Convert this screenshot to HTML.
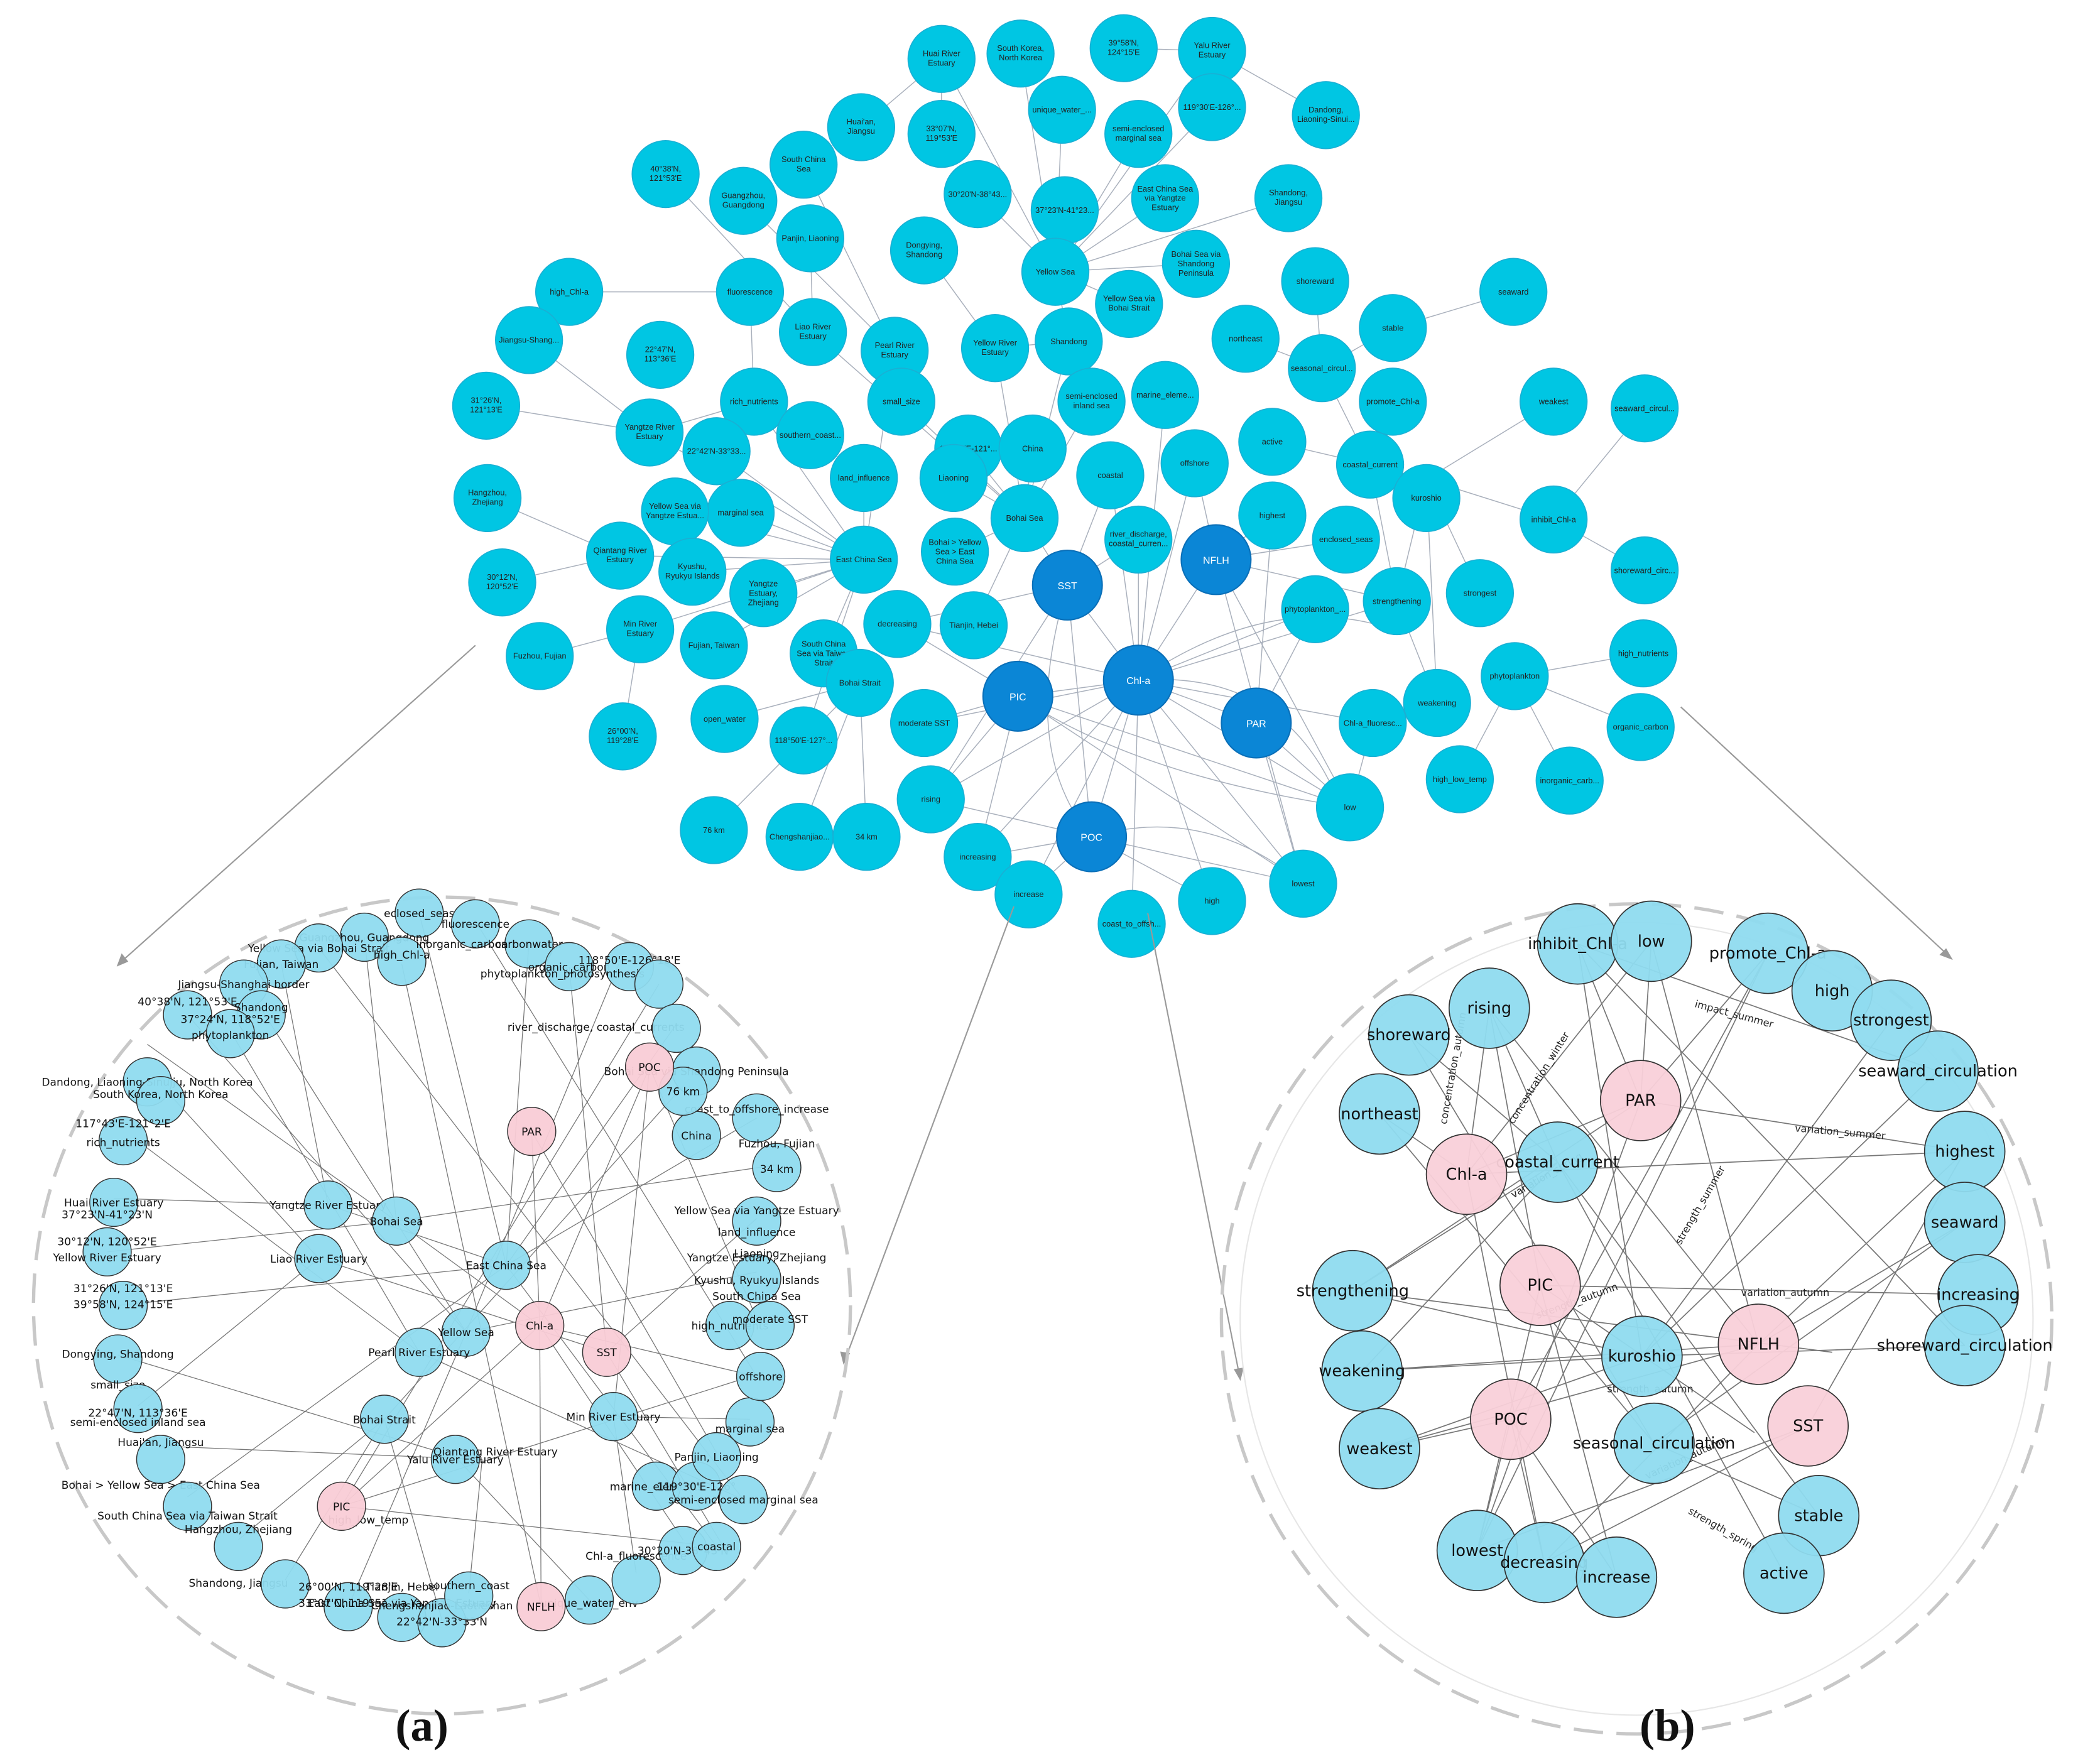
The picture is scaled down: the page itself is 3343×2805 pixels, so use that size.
<!DOCTYPE html>
<html><head><meta charset="utf-8"><style>
html,body{margin:0;padding:0;background:#fff}
svg{display:block}
.t circle{fill:#00c6e3;stroke:#19b0d4;stroke-width:.8}
.t text{font:6px "Liberation Sans",sans-serif;fill:#222;text-anchor:middle}
.d circle{fill:#0b86d6;stroke:#0a6fb8;stroke-width:1}
.d text{font:7.5px "Liberation Sans",sans-serif;fill:#fff;text-anchor:middle}
.e line,.e path{stroke:#a9b0bc;stroke-width:.7;fill:none}
.a circle{fill:#8fdbef;stroke:#333;stroke-width:.7;fill-opacity:.95}
.a .p{fill:#f9ccd6}
.a text{font:8px "DejaVu Sans",sans-serif;fill:#111;text-anchor:middle}
.ae line{stroke:#777;stroke-width:.6}
.b circle{fill:#8fdbef;stroke:#333;stroke-width:.8;fill-opacity:.95}
.b .p{fill:#f9d0d9}
.b text{font:12px "DejaVu Sans",sans-serif;fill:#111;text-anchor:middle}
.be line{stroke:#777;stroke-width:.8}
.big{font:bold 34px "Liberation Serif",serif;fill:#111;text-anchor:middle}
</style></head><body>
<svg width="3343" height="2805" viewBox="0 0 1568 1316" preserveAspectRatio="none" xmlns="http://www.w3.org/2000/svg">
<rect width="1568" height="1316" fill="#fff"/>
<!-- top edges -->
<g class="e">
<line x1="703" y1="44" x2="643" y2="95"/><line x1="703" y1="44" x2="703" y2="100"/><line x1="703" y1="44" x2="788" y2="203"/>
<line x1="762" y1="40" x2="788" y2="203"/><line x1="839" y1="36" x2="905" y2="38"/><line x1="905" y1="38" x2="990" y2="86"/>
<line x1="905" y1="38" x2="788" y2="203"/><line x1="793" y1="82" x2="788" y2="203"/><line x1="850" y1="100" x2="788" y2="203"/>
<line x1="905" y1="80" x2="788" y2="203"/><line x1="870" y1="148" x2="788" y2="203"/><line x1="962" y1="148" x2="788" y2="203"/>
<line x1="795" y1="157" x2="788" y2="203"/><line x1="730" y1="145" x2="788" y2="203"/><line x1="893" y1="197" x2="788" y2="203"/>
<line x1="843" y1="227" x2="788" y2="203"/><line x1="600" y1="123" x2="668" y2="262"/><line x1="555" y1="150" x2="668" y2="262"/>
<line x1="605" y1="178" x2="607" y2="248"/><line x1="497" y1="130" x2="607" y2="248"/><line x1="690" y1="187" x2="743" y2="260"/>
<line x1="425" y1="218" x2="560" y2="218"/><line x1="607" y1="248" x2="765" y2="387"/><line x1="668" y1="262" x2="645" y2="418"/>
<line x1="395" y1="254" x2="485" y2="323"/><line x1="363" y1="303" x2="485" y2="323"/><line x1="485" y1="323" x2="563" y2="300"/>
<line x1="485" y1="323" x2="645" y2="418"/><line x1="364" y1="372" x2="463" y2="415"/><line x1="375" y1="435" x2="463" y2="415"/>
<line x1="463" y1="415" x2="645" y2="418"/><line x1="478" y1="470" x2="403" y2="490"/><line x1="478" y1="470" x2="465" y2="550"/>
<line x1="478" y1="470" x2="645" y2="418"/><line x1="553" y1="383" x2="645" y2="418"/><line x1="535" y1="337" x2="645" y2="418"/>
<line x1="517" y1="427" x2="645" y2="418"/><line x1="570" y1="443" x2="645" y2="418"/><line x1="533" y1="482" x2="645" y2="418"/>
<line x1="615" y1="488" x2="645" y2="418"/><line x1="600" y1="553" x2="645" y2="418"/><line x1="504" y1="382" x2="645" y2="418"/>
<line x1="645" y1="357" x2="645" y2="418"/><line x1="563" y1="300" x2="645" y2="418"/><line x1="560" y1="218" x2="563" y2="300"/>
<line x1="765" y1="387" x2="771" y2="335"/><line x1="765" y1="387" x2="712" y2="357"/><line x1="765" y1="387" x2="727" y2="467"/>
<line x1="765" y1="387" x2="713" y2="412"/><line x1="765" y1="387" x2="673" y2="300"/><line x1="765" y1="387" x2="723" y2="335"/>
<line x1="765" y1="387" x2="815" y2="300"/><line x1="765" y1="387" x2="798" y2="255"/><line x1="765" y1="387" x2="743" y2="260"/>
<line x1="788" y1="203" x2="798" y2="255"/><line x1="743" y1="260" x2="798" y2="255"/><line x1="642" y1="510" x2="533" y2="620"/>
<line x1="642" y1="510" x2="597" y2="625"/><line x1="642" y1="510" x2="647" y2="625"/><line x1="642" y1="510" x2="541" y2="537"/>
<line x1="850" y1="508" x2="797" y2="437"/><line x1="850" y1="508" x2="908" y2="418"/><line x1="850" y1="508" x2="760" y2="520"/>
<line x1="850" y1="508" x2="938" y2="540"/><line x1="850" y1="508" x2="815" y2="625"/><line x1="850" y1="508" x2="829" y2="355"/>
<line x1="850" y1="508" x2="892" y2="346"/><line x1="850" y1="508" x2="850" y2="403"/><line x1="850" y1="508" x2="670" y2="466"/>
<line x1="850" y1="508" x2="690" y2="540"/><line x1="850" y1="508" x2="695" y2="597"/><line x1="850" y1="508" x2="1008" y2="603"/>
<line x1="850" y1="508" x2="973" y2="660"/><line x1="850" y1="508" x2="905" y2="673"/><line x1="850" y1="508" x2="768" y2="668"/>
<line x1="850" y1="508" x2="730" y2="640"/><line x1="850" y1="508" x2="1025" y2="540"/><line x1="850" y1="508" x2="982" y2="455"/>
<line x1="850" y1="508" x2="870" y2="295"/><line x1="850" y1="508" x2="845" y2="690"/><line x1="850" y1="508" x2="1043" y2="449"/>
<line x1="797" y1="437" x2="670" y2="466"/><line x1="797" y1="437" x2="695" y2="597"/><line x1="797" y1="437" x2="850" y2="403"/>
<line x1="797" y1="437" x2="829" y2="355"/><line x1="797" y1="437" x2="765" y2="387"/><line x1="797" y1="437" x2="815" y2="625"/>
<line x1="908" y1="418" x2="950" y2="385"/><line x1="908" y1="418" x2="1005" y2="403"/><line x1="908" y1="418" x2="1043" y2="449"/>
<line x1="908" y1="418" x2="973" y2="660"/><line x1="908" y1="418" x2="1008" y2="603"/><line x1="908" y1="418" x2="892" y2="346"/>
<line x1="938" y1="540" x2="1008" y2="603"/><line x1="938" y1="540" x2="973" y2="660"/><line x1="938" y1="540" x2="982" y2="455"/>
<line x1="938" y1="540" x2="950" y2="385"/><line x1="815" y1="625" x2="768" y2="668"/><line x1="815" y1="625" x2="905" y2="673"/>
<line x1="815" y1="625" x2="973" y2="660"/><line x1="815" y1="625" x2="730" y2="640"/><line x1="815" y1="625" x2="695" y2="597"/>
<line x1="760" y1="520" x2="695" y2="597"/><line x1="760" y1="520" x2="730" y2="640"/><line x1="760" y1="520" x2="690" y2="540"/>
<line x1="760" y1="520" x2="670" y2="466"/><line x1="760" y1="520" x2="1008" y2="603"/><line x1="760" y1="520" x2="973" y2="660"/>
<line x1="1023" y1="347" x2="987" y2="275"/><line x1="1023" y1="347" x2="950" y2="330"/><line x1="1023" y1="347" x2="1043" y2="449"/>
<line x1="1023" y1="347" x2="1040" y2="300"/><line x1="987" y1="275" x2="1040" y2="245"/><line x1="987" y1="275" x2="930" y2="253"/>
<line x1="987" y1="275" x2="982" y2="210"/><line x1="1040" y1="245" x2="1130" y2="218"/><line x1="1065" y1="358" x2="1160" y2="300"/>
<line x1="1065" y1="358" x2="1160" y2="388"/><line x1="1065" y1="358" x2="1105" y2="443"/><line x1="1065" y1="358" x2="1073" y2="525"/>
<line x1="1065" y1="358" x2="1043" y2="449"/><line x1="1160" y1="388" x2="1228" y2="305"/><line x1="1160" y1="388" x2="1228" y2="426"/>
<line x1="1131" y1="505" x2="1227" y2="488"/><line x1="1131" y1="505" x2="1225" y2="543"/><line x1="1131" y1="505" x2="1090" y2="582"/>
<line x1="1131" y1="505" x2="1172" y2="583"/><line x1="1043" y1="449" x2="1073" y2="525"/><line x1="1025" y1="540" x2="1008" y2="603"/>
<path d="M850 508 Q950 440 1040 470"/><path d="M850 508 Q960 500 1000 600"/><path d="M815 625 Q900 600 973 660"/>
<path d="M760 520 Q850 580 1008 603"/><path d="M797 437 Q760 560 815 625"/>
</g>
<!-- top nodes -->
<g class="t">
<g transform="translate(703,44)"><circle r="25"/><text y="-2">Huai River</text><text y="5">Estuary</text></g>
<g transform="translate(762,40)"><circle r="25"/><text y="-2">South Korea,</text><text y="5">North Korea</text></g>
<g transform="translate(839,36)"><circle r="25"/><text y="-2">39°58'N,</text><text y="5">124°15'E</text></g>
<g transform="translate(905,38)"><circle r="25"/><text y="-2">Yalu River</text><text y="5">Estuary</text></g>
<g transform="translate(643,95)"><circle r="25"/><text y="-2">Huai'an,</text><text y="5">Jiangsu</text></g>
<g transform="translate(793,82)"><circle r="25"/><text y="2">unique_water_...</text></g>
<g transform="translate(905,80)"><circle r="25"/><text y="2">119°30'E-126°...</text></g>
<g transform="translate(990,86)"><circle r="25"/><text y="-2">Dandong,</text><text y="5">Liaoning-Sinui...</text></g>
<g transform="translate(703,100)"><circle r="25"/><text y="-2">33°07'N,</text><text y="5">119°53'E</text></g>
<g transform="translate(850,100)"><circle r="25"/><text y="-2">semi-enclosed</text><text y="5">marginal sea</text></g>
<g transform="translate(600,123)"><circle r="25"/><text y="-2">South China</text><text y="5">Sea</text></g>
<g transform="translate(497,130)"><circle r="25"/><text y="-2">40°38'N,</text><text y="5">121°53'E</text></g>
<g transform="translate(555,150)"><circle r="25"/><text y="-2">Guangzhou,</text><text y="5">Guangdong</text></g>
<g transform="translate(605,178)"><circle r="25"/><text y="2">Panjin, Liaoning</text></g>
<g transform="translate(730,145)"><circle r="25"/><text y="2">30°20'N-38°43...</text></g>
<g transform="translate(795,157)"><circle r="25"/><text y="2">37°23'N-41°23...</text></g>
<g transform="translate(870,148)"><circle r="25"/><text y="-5">East China Sea</text><text y="2">via Yangtze</text><text y="9">Estuary</text></g>
<g transform="translate(962,148)"><circle r="25"/><text y="-2">Shandong,</text><text y="5">Jiangsu</text></g>
<g transform="translate(690,187)"><circle r="25"/><text y="-2">Dongying,</text><text y="5">Shandong</text></g>
<g transform="translate(788,203)"><circle r="25"/><text y="2">Yellow Sea</text></g>
<g transform="translate(893,197)"><circle r="25"/><text y="-5">Bohai Sea via</text><text y="2">Shandong</text><text y="9">Peninsula</text></g>
<g transform="translate(982,210)"><circle r="25"/><text y="2">shoreward</text></g>
<g transform="translate(1130,218)"><circle r="25"/><text y="2">seaward</text></g>
<g transform="translate(425,218)"><circle r="25"/><text y="2">high_Chl-a</text></g>
<g transform="translate(560,218)"><circle r="25"/><text y="2">fluorescence</text></g>
<g transform="translate(843,227)"><circle r="25"/><text y="-2">Yellow Sea via</text><text y="5">Bohai Strait</text></g>
<g transform="translate(395,254)"><circle r="25"/><text y="2">Jiangsu-Shang...</text></g>
<g transform="translate(493,265)"><circle r="25"/><text y="-2">22°47'N,</text><text y="5">113°36'E</text></g>
<g transform="translate(607,248)"><circle r="25"/><text y="-2">Liao River</text><text y="5">Estuary</text></g>
<g transform="translate(668,262)"><circle r="25"/><text y="-2">Pearl River</text><text y="5">Estuary</text></g>
<g transform="translate(743,260)"><circle r="25"/><text y="-2">Yellow River</text><text y="5">Estuary</text></g>
<g transform="translate(798,255)"><circle r="25"/><text y="2">Shandong</text></g>
<g transform="translate(930,253)"><circle r="25"/><text y="2">northeast</text></g>
<g transform="translate(1040,245)"><circle r="25"/><text y="2">stable</text></g>
<g transform="translate(987,275)"><circle r="25"/><text y="2">seasonal_circul...</text></g>
<g transform="translate(563,300)"><circle r="25"/><text y="2">rich_nutrients</text></g>
<g transform="translate(673,300)"><circle r="25"/><text y="2">small_size</text></g>
<g transform="translate(815,300)"><circle r="25"/><text y="-2">semi-enclosed</text><text y="5">inland sea</text></g>
<g transform="translate(870,295)"><circle r="25"/><text y="2">marine_eleme...</text></g>
<g transform="translate(1040,300)"><circle r="25"/><text y="2">promote_Chl-a</text></g>
<g transform="translate(1160,300)"><circle r="25"/><text y="2">weakest</text></g>
<g transform="translate(363,303)"><circle r="25"/><text y="-2">31°26'N,</text><text y="5">121°13'E</text></g>
<g transform="translate(1228,305)"><circle r="25"/><text y="2">seaward_circul...</text></g>
<g transform="translate(485,323)"><circle r="25"/><text y="-2">Yangtze River</text><text y="5">Estuary</text></g>
<g transform="translate(605,325)"><circle r="25"/><text y="2">southern_coast...</text></g>
<g transform="translate(723,335)"><circle r="25"/><text y="2">117°43'E-121°...</text></g>
<g transform="translate(771,335)"><circle r="25"/><text y="2">China</text></g>
<g transform="translate(950,330)"><circle r="25"/><text y="2">active</text></g>
<g transform="translate(1023,347)"><circle r="25"/><text y="2">coastal_current</text></g>
<g transform="translate(535,337)"><circle r="25"/><text y="2">22°42'N-33°33...</text></g>
<g transform="translate(364,372)"><circle r="25"/><text y="-2">Hangzhou,</text><text y="5">Zhejiang</text></g>
<g transform="translate(645,357)"><circle r="25"/><text y="2">land_influence</text></g>
<g transform="translate(712,357)"><circle r="25"/><text y="2">Liaoning</text></g>
<g transform="translate(829,355)"><circle r="25"/><text y="2">coastal</text></g>
<g transform="translate(892,346)"><circle r="25"/><text y="2">offshore</text></g>
<g transform="translate(1065,372)"><circle r="25"/><text y="2">kuroshio</text></g>
<g transform="translate(1160,388)"><circle r="25"/><text y="2">inhibit_Chl-a</text></g>
<g transform="translate(553,383)"><circle r="25"/><text y="2">marginal sea</text></g>
<g transform="translate(765,387)"><circle r="25"/><text y="2">Bohai Sea</text></g>
<g transform="translate(950,385)"><circle r="25"/><text y="2">highest</text></g>
<g transform="translate(1005,403)"><circle r="25"/><text y="2">enclosed_seas</text></g>
<g transform="translate(504,382)"><circle r="25"/><text y="-2">Yellow Sea via</text><text y="5">Yangtze Estua...</text></g>
<g transform="translate(463,415)"><circle r="25"/><text y="-2">Qiantang River</text><text y="5">Estuary</text></g>
<g transform="translate(645,418)"><circle r="25"/><text y="2">East China Sea</text></g>
<g transform="translate(713,412)"><circle r="25"/><text y="-5">Bohai &gt; Yellow</text><text y="2">Sea &gt; East</text><text y="9">China Sea</text></g>
<g transform="translate(850,403)"><circle r="25"/><text y="-2">river_discharge,</text><text y="5">coastal_curren...</text></g>
<g transform="translate(517,427)"><circle r="25"/><text y="-2">Kyushu,</text><text y="5">Ryukyu Islands</text></g>
<g transform="translate(570,443)"><circle r="25"/><text y="-5">Yangtze</text><text y="2">Estuary,</text><text y="9">Zhejiang</text></g>
<g transform="translate(1228,426)"><circle r="25"/><text y="2">shoreward_circ...</text></g>
<g transform="translate(375,435)"><circle r="25"/><text y="-2">30°12'N,</text><text y="5">120°52'E</text></g>
<g transform="translate(1105,443)"><circle r="25"/><text y="2">strongest</text></g>
<g transform="translate(1043,449)"><circle r="25"/><text y="2">strengthening</text></g>
<g transform="translate(982,455)"><circle r="25"/><text y="2">phytoplankton_...</text></g>
<g transform="translate(670,466)"><circle r="25"/><text y="2">decreasing</text></g>
<g transform="translate(727,467)"><circle r="25"/><text y="2">Tianjin, Hebei</text></g>
<g transform="translate(478,470)"><circle r="25"/><text y="-2">Min River</text><text y="5">Estuary</text></g>
<g transform="translate(533,482)"><circle r="25"/><text y="2">Fujian, Taiwan</text></g>
<g transform="translate(615,488)"><circle r="25"/><text y="-5">South China</text><text y="2">Sea via Taiwan</text><text y="9">Strait</text></g>
<g transform="translate(1227,488)"><circle r="25"/><text y="2">high_nutrients</text></g>
<g transform="translate(403,490)"><circle r="25"/><text y="2">Fuzhou, Fujian</text></g>
<g transform="translate(1131,505)"><circle r="25"/><text y="2">phytoplankton</text></g>
<g transform="translate(642,510)"><circle r="25"/><text y="2">Bohai Strait</text></g>
<g transform="translate(690,540)"><circle r="25"/><text y="2">moderate SST</text></g>
<g transform="translate(1073,525)"><circle r="25"/><text y="2">weakening</text></g>
<g transform="translate(1025,540)"><circle r="25"/><text y="2">Chl-a_fluoresc...</text></g>
<g transform="translate(1225,543)"><circle r="25"/><text y="2">organic_carbon</text></g>
<g transform="translate(541,537)"><circle r="25"/><text y="2">open_water</text></g>
<g transform="translate(465,550)"><circle r="25"/><text y="-2">26°00'N,</text><text y="5">119°28'E</text></g>
<g transform="translate(600,553)"><circle r="25"/><text y="2">118°50'E-127°...</text></g>
<g transform="translate(695,597)"><circle r="25"/><text y="2">rising</text></g>
<g transform="translate(1008,603)"><circle r="25"/><text y="2">low</text></g>
<g transform="translate(1090,582)"><circle r="25"/><text y="2">high_low_temp</text></g>
<g transform="translate(1172,583)"><circle r="25"/><text y="2">inorganic_carb...</text></g>
<g transform="translate(533,620)"><circle r="25"/><text y="2">76 km</text></g>
<g transform="translate(597,625)"><circle r="25"/><text y="2">Chengshanjiao...</text></g>
<g transform="translate(647,625)"><circle r="25"/><text y="2">34 km</text></g>
<g transform="translate(730,640)"><circle r="25"/><text y="2">increasing</text></g>
<g transform="translate(973,660)"><circle r="25"/><text y="2">lowest</text></g>
<g transform="translate(905,673)"><circle r="25"/><text y="2">high</text></g>
<g transform="translate(768,668)"><circle r="25"/><text y="2">increase</text></g>
<g transform="translate(845,690)"><circle r="25"/><text y="2">coast_to_offsh...</text></g>
</g>
<g class="d">
<g transform="translate(797,437)"><circle r="26"/><text y="3">SST</text></g>
<g transform="translate(908,418)"><circle r="26"/><text y="3">NFLH</text></g>
<g transform="translate(850,508)"><circle r="26"/><text y="3">Chl-a</text></g>
<g transform="translate(760,520)"><circle r="26"/><text y="3">PIC</text></g>
<g transform="translate(938,540)"><circle r="26"/><text y="3">PAR</text></g>
<g transform="translate(815,625)"><circle r="26"/><text y="3">POC</text></g>
</g>
<!-- pointer arrows -->
<g stroke="#999" stroke-width="1" fill="#999">
<line x1="355" y1="482" x2="92" y2="717"/><path d="M88 721 l3 -8 l4 5z"/>
<line x1="757" y1="677" x2="632" y2="1013"/><path d="M630 1018 l-2 -8 l6 1z"/>
<line x1="857" y1="682" x2="925" y2="1025"/><path d="M926 1030 l-4 -7 l6 -1z"/>
<line x1="1255" y1="528" x2="1453" y2="712"/><path d="M1457 716 l-8 -3 l4 -4z"/>
</g>
<!-- dashed circles -->
<circle cx="330" cy="975" r="305" fill="none" stroke="#c8c8c8" stroke-width="2.5" stroke-dasharray="22 10"/>
<circle cx="1222" cy="985" r="310" fill="none" stroke="#c8c8c8" stroke-width="2.5" stroke-dasharray="22 10"/>
<circle cx="1222" cy="985" r="296" fill="none" stroke="#e6e6e6" stroke-width="1"/>
<!-- (a) edges -->
<g class="ae">
<line x1="245" y1="900" x2="378" y2="945"/><line x1="296" y1="912" x2="403" y2="990"/><line x1="238" y1="940" x2="453" y2="1010"/>
<line x1="378" y1="945" x2="313" y2="682"/><line x1="378" y1="945" x2="395" y2="703"/><line x1="378" y1="945" x2="565" y2="835"/>
<line x1="378" y1="945" x2="88" y2="975"/><line x1="378" y1="945" x2="140" y2="1118"/><line x1="378" y1="945" x2="535" y2="1155"/>
<line x1="348" y1="995" x2="182" y2="733"/><line x1="348" y1="995" x2="565" y2="950"/><line x1="348" y1="995" x2="260" y2="1200"/>
<line x1="313" y1="1010" x2="100" y2="850"/><line x1="313" y1="1010" x2="555" y2="1120"/><line x1="296" y1="912" x2="110" y2="780"/>
<line x1="296" y1="912" x2="80" y2="935"/><line x1="296" y1="912" x2="272" y2="700"/><line x1="296" y1="912" x2="580" y2="870"/>
<line x1="245" y1="900" x2="85" y2="895"/><line x1="245" y1="900" x2="210" y2="720"/><line x1="238" y1="940" x2="103" y2="1050"/>
<line x1="238" y1="940" x2="120" y2="810"/><line x1="403" y1="990" x2="255" y2="1125"/><line x1="403" y1="990" x2="404" y2="1200"/>
<line x1="403" y1="990" x2="485" y2="797"/><line x1="403" y1="990" x2="397" y2="845"/><line x1="403" y1="990" x2="565" y2="1028"/>
<line x1="403" y1="990" x2="510" y2="1150"/><line x1="453" y1="1010" x2="540" y2="1155"/><line x1="453" y1="1010" x2="565" y2="910"/>
<line x1="485" y1="797" x2="458" y2="1058"/><line x1="485" y1="797" x2="565" y2="985"/><line x1="397" y1="845" x2="535" y2="1085"/>
<line x1="255" y1="1125" x2="535" y2="1155"/><line x1="255" y1="1125" x2="492" y2="735"/><line x1="404" y1="1200" x2="300" y2="720"/>
<line x1="287" y1="1060" x2="178" y2="1150"/><line x1="287" y1="1060" x2="213" y2="1180"/><line x1="287" y1="1060" x2="330" y2="1210"/>
<line x1="458" y1="1058" x2="560" y2="1060"/><line x1="458" y1="1058" x2="475" y2="1175"/><line x1="340" y1="1088" x2="440" y2="1195"/>
<line x1="340" y1="1088" x2="88" y2="1012"/><line x1="360" y1="1090" x2="120" y2="1080"/><line x1="360" y1="1090" x2="350" y2="1190"/>
<line x1="425" y1="722" x2="453" y2="1010"/><line x1="462" y1="720" x2="348" y2="995"/><line x1="505" y1="765" x2="378" y2="945"/>
<line x1="140" y1="758" x2="348" y2="995"/><line x1="172" y1="770" x2="313" y2="1010"/><line x1="520" y1="800" x2="287" y2="1060"/>
<line x1="238" y1="708" x2="555" y2="1120"/><line x1="355" y1="688" x2="565" y2="1028"/><line x1="570" y1="1025" x2="255" y2="1125"/>
</g>
<!-- (a) nodes -->
<g class="a">
<g transform="translate(313,682)"><circle r="18"/><text y="3">eclosed_seas</text></g>
<g transform="translate(355,690)"><circle r="18"/><text y="3">fluorescence</text></g>
<g transform="translate(395,705)"><circle r="18"/><text y="3">carbonwater</text></g>
<g transform="translate(272,700)"><circle r="18"/><text y="3">Guangzhou, Guangdong</text></g>
<g transform="translate(238,708)"><circle r="18"/><text y="3">Yellow Sea via Bohai Strait</text></g>
<g transform="translate(300,718)"><circle r="18"/><text y="-2">high_Chl-a</text></g>
<g transform="translate(210,720)"><circle r="18"/><text y="3">Fujian, Taiwan</text></g>
<g transform="translate(182,735)"><circle r="18"/><text y="3">Jiangsu-Shanghai border</text></g>
<g transform="translate(345,705)"><text y="3">inorganic_carbon</text></g>
<g transform="translate(425,722)"><circle r="18"/><text y="3">organic_carbon</text></g>
<g transform="translate(470,722)"><circle r="18"/><text y="-2">118°50'E-126°18'E</text></g>
<g transform="translate(420,730)"><text y="0">phytoplankton_photosynthesis</text></g>
<g transform="translate(492,735)"><circle r="18"/></g>
<g transform="translate(140,758)"><circle r="18"/><text y="-7">40°38'N, 121°53'E</text></g>
<g transform="translate(195,758)"><circle r="18"/><text y="-3">Shandong</text></g>
<g transform="translate(172,772)"><circle r="18"/><text y="-8">37°24'N, 118°52'E</text><text y="4">phytoplankton</text></g>
<g transform="translate(445,767)"><text y="3">river_discharge, coastal_currents</text></g>
<g transform="translate(505,768)"><circle r="18"/></g>
<g transform="translate(110,808)"><circle r="18"/><text y="3">Dandong, Liaoning-Sinuiju, North Korea</text></g>
<g transform="translate(120,822)"><circle r="18"/><text y="-2">South Korea, North Korea</text></g>
<g transform="translate(520,800)"><circle r="18"/><text y="3">Bohai Sea via Shandong Peninsula</text></g>
<g transform="translate(92,852)"><circle r="18"/><text y="-10">117°43'E-121°2'E</text><text y="4">rich_nutrients</text></g>
<g transform="translate(565,835)"><circle r="18"/><text y="-4">coast_to_offshore_increase</text></g>
<g transform="translate(85,898)"><circle r="18"/><text y="3">Huai River Estuary</text></g>
<g transform="translate(80,935)"><circle r="18"/><text y="-25">37°23'N-41°23'N</text><text y="-5">30°12'N, 120°52'E</text><text y="7">Yellow River Estuary</text></g>
<g transform="translate(92,975)"><circle r="18"/><text y="-10">31°26'N, 121°13'E</text><text y="2">39°58'N, 124°15'E</text></g>
<g transform="translate(88,1015)"><circle r="18"/><text y="-1">Dongying, Shandong</text><text y="22">small_size</text></g>
<g transform="translate(103,1052)"><circle r="18"/><text y="6">22°47'N, 113°36'E</text><text y="13">semi-enclosed inland sea</text></g>
<g transform="translate(120,1090)"><circle r="18"/><text y="-10">Huai'an, Jiangsu</text><text y="22">Bohai &gt; Yellow Sea &gt; East China Sea</text></g>
<g transform="translate(140,1125)"><circle r="18"/><text y="10">South China Sea via Taiwan Strait</text></g>
<g transform="translate(178,1155)"><circle r="18"/><text y="-10">Hangzhou, Zhejiang</text><text y="30">Shandong, Jiangsu</text></g>
<g transform="translate(213,1183)"><circle r="18"/></g>
<g transform="translate(260,1200)"><circle r="18"/><text y="-12">26°00'N, 119°28'E</text><text y="0">33°07'N, 119°53'E</text></g>
<g transform="translate(300,1208)"><circle r="18"/><text y="-20">Tianjin, Hebei</text><text y="-8">East China Sea via Yangtze Estuary</text></g>
<g transform="translate(330,1212)"><circle r="18"/><text y="-10">Chengshanjiao-Laotieshan</text><text y="2">22°42'N-33°33'N</text></g>
<g transform="translate(350,1192)"><circle r="18"/><text y="-5">southern_coast</text></g>
<g transform="translate(440,1195)"><circle r="18"/><text y="5">unique_water_env</text></g>
<g transform="translate(475,1180)"><circle r="18"/><text y="-15">Chl-a_fluorescence</text></g>
<g transform="translate(510,1158)"><circle r="18"/><text y="3">30°20'N-38°43'N</text></g>
<g transform="translate(535,1155)"><circle r="18"/><text y="3">coastal</text></g>
<g transform="translate(490,1110)"><circle r="18"/><text y="3">marine_elements</text></g>
<g transform="translate(520,1110)"><circle r="18"/><text y="3">119°30'E-126°</text></g>
<g transform="translate(555,1120)"><circle r="18"/><text y="3">semi-enclosed marginal sea</text></g>
<g transform="translate(535,1088)"><circle r="18"/><text y="3">Panjin, Liaoning</text></g>
<g transform="translate(560,1062)"><circle r="18"/><text y="8">marginal sea</text></g>
<g transform="translate(568,1028)"><circle r="18"/><text y="3">offshore</text></g>
<g transform="translate(545,990)"><circle r="18"/><text y="3">high_nutrients</text></g>
<g transform="translate(575,990)"><circle r="18"/><text y="-2">moderate SST</text></g>
<g transform="translate(565,955)"><circle r="18"/><text y="-13">Yangtze Estuary, Zhejiang</text><text y="4">Kyushu, Ryukyu Islands</text><text y="16">South China Sea</text></g>
<g transform="translate(565,912)"><circle r="18"/><text y="-5">Yellow Sea via Yangtze Estuary</text><text y="11">land_influence</text><text y="27">Liaoning</text></g>
<g transform="translate(580,872)"><circle r="18"/><text y="-15">Fuzhou, Fujian</text><text y="4">34 km</text></g>
<g transform="translate(520,848)"><circle r="18"/><text y="3">China</text></g>
<g transform="translate(510,815)"><circle r="18"/><text y="3">76 km</text></g>
<g transform="translate(245,900)"><circle r="18"/><text y="3">Yangtze River Estuary</text></g>
<g transform="translate(296,912)"><circle r="18"/><text y="3">Bohai Sea</text></g>
<g transform="translate(238,940)"><circle r="18"/><text y="3">Liao River Estuary</text></g>
<g transform="translate(378,945)"><circle r="18"/><text y="3">East China Sea</text></g>
<g transform="translate(348,995)"><circle r="18"/><text y="3">Yellow Sea</text></g>
<g transform="translate(313,1010)"><circle r="18"/><text y="3">Pearl River Estuary</text></g>
<g transform="translate(287,1060)"><circle r="18"/><text y="3">Bohai Strait</text></g>
<g transform="translate(458,1058)"><circle r="18"/><text y="3">Min River Estuary</text></g>
<g transform="translate(340,1090)"><circle r="18"/><text y="3">Yalu River Estuary</text></g>
<g transform="translate(370,1090)"><text y="-3">Qiantang River Estuary</text></g>
<g transform="translate(275,1135)"><text y="3">high_low_temp</text></g>
<g transform="translate(403,990)"><circle r="18" class="p"/><text y="3">Chl-a</text></g>
<g transform="translate(453,1010)"><circle r="18" class="p"/><text y="3">SST</text></g>
<g transform="translate(485,797)"><circle r="18" class="p"/><text y="3">POC</text></g>
<g transform="translate(397,845)"><circle r="18" class="p"/><text y="3">PAR</text></g>
<g transform="translate(255,1125)"><circle r="18" class="p"/><text y="3">PIC</text></g>
<g transform="translate(404,1200)"><circle r="18" class="p"/><text y="3">NFLH</text></g>
</g>
<!-- (b) edges -->
<g class="be">
<line x1="1095" y1="877" x2="1112" y2="753"/><line x1="1095" y1="877" x2="1233" y2="703"/><line x1="1095" y1="877" x2="1030" y2="832"/>
<line x1="1095" y1="877" x2="1225" y2="822"/><line x1="1095" y1="877" x2="1153" y2="1167"/><line x1="1095" y1="877" x2="1467" y2="860"/>
<line x1="1225" y1="822" x2="1467" y2="860"/><line x1="1225" y1="822" x2="1233" y2="703"/><line x1="1225" y1="822" x2="1178" y2="705"/>
<line x1="1225" y1="822" x2="1320" y2="712"/><line x1="1225" y1="822" x2="1103" y2="1158"/><line x1="1225" y1="822" x2="1010" y2="964"/>
<line x1="1163" y1="868" x2="1112" y2="753"/><line x1="1163" y1="868" x2="1052" y2="773"/><line x1="1163" y1="868" x2="1010" y2="964"/>
<line x1="1163" y1="868" x2="1017" y2="1024"/><line x1="1163" y1="868" x2="1332" y2="1175"/><line x1="1163" y1="868" x2="1358" y2="1132"/>
<line x1="1150" y1="960" x2="1112" y2="753"/><line x1="1150" y1="960" x2="1477" y2="967"/><line x1="1150" y1="960" x2="1207" y2="1178"/>
<line x1="1150" y1="960" x2="1103" y2="1158"/><line x1="1150" y1="960" x2="1310" y2="1070"/><line x1="1313" y1="1004" x2="1467" y2="860"/>
<line x1="1313" y1="1004" x2="1467" y2="913"/><line x1="1313" y1="1004" x2="1112" y2="753"/><line x1="1313" y1="1004" x2="1153" y2="1167"/>
<line x1="1313" y1="1004" x2="1233" y2="703"/><line x1="1226" y1="1013" x2="1178" y2="705"/><line x1="1226" y1="1013" x2="1412" y2="762"/>
<line x1="1226" y1="1013" x2="1030" y2="1082"/><line x1="1226" y1="1013" x2="1010" y2="964"/><line x1="1226" y1="1013" x2="1017" y2="1024"/>
<line x1="1226" y1="1013" x2="1447" y2="800"/><line x1="1226" y1="1013" x2="1467" y2="1005"/><line x1="1128" y1="1060" x2="1030" y2="1082"/>
<line x1="1128" y1="1060" x2="1320" y2="712"/><line x1="1128" y1="1060" x2="1207" y2="1178"/><line x1="1128" y1="1060" x2="1103" y2="1158"/>
<line x1="1128" y1="1060" x2="1153" y2="1167"/><line x1="1350" y1="1065" x2="1467" y2="860"/><line x1="1350" y1="1065" x2="1153" y2="1167"/>
<line x1="1235" y1="1078" x2="1052" y2="773"/><line x1="1235" y1="1078" x2="1358" y2="1132"/><line x1="1235" y1="1078" x2="1467" y2="913"/>
<line x1="1235" y1="1078" x2="1030" y2="832"/><line x1="1010" y1="964" x2="1368" y2="1010"/><line x1="1017" y1="1024" x2="1313" y2="1004"/>
<line x1="1178" y1="705" x2="1447" y2="800"/><line x1="1178" y1="705" x2="1467" y2="1005"/><line x1="1320" y1="712" x2="1103" y2="1158"/>
<line x1="1350" y1="1065" x2="1103" y2="1158"/><line x1="1313" y1="1004" x2="1030" y2="1082"/>
</g>
<g font-family="DejaVu Sans" font-size="7.5" fill="#222">
<text x="1265" y="752" transform="rotate(15 1265 752)">impact_summer</text>
<text x="1340" y="845" transform="rotate(5 1340 845)">variation_summer</text>
<text x="1300" y="968">variation_autumn</text>
<text x="1148" y="985" transform="rotate(-20 1148 985)">strength_autumn</text>
<text x="1130" y="895" transform="rotate(-30 1130 895)">variation_spring</text>
<text x="1200" y="1040">strength_autumn</text>
<text x="1080" y="840" transform="rotate(-80 1080 840)">concentration_autumn</text>
<text x="1130" y="840" transform="rotate(-58 1130 840)">concentration_winter</text>
<text x="1255" y="930" transform="rotate(-60 1255 930)">strength_summer</text>
<text x="1230" y="1105" transform="rotate(-25 1230 1105)">variation_autumn</text>
<text x="1260" y="1130" transform="rotate(30 1260 1130)">strength_spring</text>
</g>
<g class="b">
<g transform="translate(1178,705)"><circle r="30"/><text y="4">inhibit_Chl-a</text></g>
<g transform="translate(1233,703)"><circle r="30"/><text y="4">low</text></g>
<g transform="translate(1320,712)"><circle r="30"/><text y="4">promote_Chl-a</text></g>
<g transform="translate(1368,740)"><circle r="30"/><text y="4">high</text></g>
<g transform="translate(1412,762)"><circle r="30"/><text y="4">strongest</text></g>
<g transform="translate(1447,800)"><circle r="30"/><text y="4">seaward_circulation</text></g>
<g transform="translate(1112,753)"><circle r="30"/><text y="4">rising</text></g>
<g transform="translate(1052,773)"><circle r="30"/><text y="4">shoreward</text></g>
<g transform="translate(1030,832)"><circle r="30"/><text y="4">northeast</text></g>
<g transform="translate(1163,868)"><circle r="30"/><text y="4">coastal_current</text></g>
<g transform="translate(1467,860)"><circle r="30"/><text y="4">highest</text></g>
<g transform="translate(1467,913)"><circle r="30"/><text y="4">seaward</text></g>
<g transform="translate(1010,964)"><circle r="30"/><text y="4">strengthening</text></g>
<g transform="translate(1477,967)"><circle r="30"/><text y="4">increasing</text></g>
<g transform="translate(1467,1005)"><circle r="30"/><text y="4">shoreward_circulation</text></g>
<g transform="translate(1226,1013)"><circle r="30"/><text y="4">kuroshio</text></g>
<g transform="translate(1017,1024)"><circle r="30"/><text y="4">weakening</text></g>
<g transform="translate(1030,1082)"><circle r="30"/><text y="4">weakest</text></g>
<g transform="translate(1235,1078)"><circle r="30"/><text y="4">seasonal_circulation</text></g>
<g transform="translate(1358,1132)"><circle r="30"/><text y="4">stable</text></g>
<g transform="translate(1103,1158)"><circle r="30"/><text y="4">lowest</text></g>
<g transform="translate(1153,1167)"><circle r="30"/><text y="4">decreasing</text></g>
<g transform="translate(1207,1178)"><circle r="30"/><text y="4">increase</text></g>
<g transform="translate(1332,1175)"><circle r="30"/><text y="4">active</text></g>
<g transform="translate(1225,822)"><circle r="30" class="p"/><text y="4">PAR</text></g>
<g transform="translate(1095,877)"><circle r="30" class="p"/><text y="4">Chl-a</text></g>
<g transform="translate(1150,960)"><circle r="30" class="p"/><text y="4">PIC</text></g>
<g transform="translate(1313,1004)"><circle r="30" class="p"/><text y="4">NFLH</text></g>
<g transform="translate(1128,1060)"><circle r="30" class="p"/><text y="4">POC</text></g>
<g transform="translate(1350,1065)"><circle r="30" class="p"/><text y="4">SST</text></g>
</g>
<text class="big" x="315" y="1300">(<tspan font-weight="bold">a</tspan>)</text>
<text class="big" x="1245" y="1300">(<tspan font-weight="bold">b</tspan>)</text>
</svg>
</body></html>
